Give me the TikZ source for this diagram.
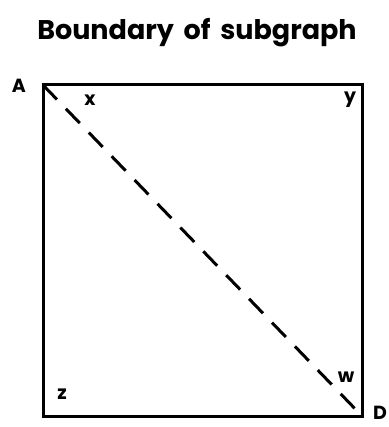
\documentclass[tikz,border=0pt]{standalone}
\usepackage{fontspec}
\setmainfont{Poppins}
\usetikzlibrary{arrows.meta}
\begin{document}
\begin{tikzpicture}[x=1pt,y=-1pt,
  lbl/.style={font=\bfseries\fontsize{19}{19}\selectfont, inner sep=0pt},
  box/.style={line width=3pt},
  diag/.style={line width=3pt, dash pattern=on 20pt off 13pt}]
\useasboundingbox (0,0) rectangle (388,427);
\node[font=\bfseries\fontsize{27}{27}\selectfont, inner sep=0pt] (title) at (197,33) {Boundary\hspace{4pt} of\hspace{4pt} subgraph};
\coordinate (A) at (43,85);
\coordinate (B) at (362,85);
\coordinate (C) at (362,416);
\coordinate (Z) at (43,416);
\draw[box] (A) -- (B) -- (C) -- (Z) -- cycle;
\draw[diag] (A) -- (C);
\node[lbl] (la) at (19,86) {A};
\node[lbl] (lx) at (90,100) {x};
\node[lbl] (ly) at (350,100) {y};
\node[lbl] (lz) at (62,394) {z};
\node[lbl] (lw) at (346,377) {w};
\node[lbl] (ld) at (380,413) {D};
\end{tikzpicture}
\end{document}
